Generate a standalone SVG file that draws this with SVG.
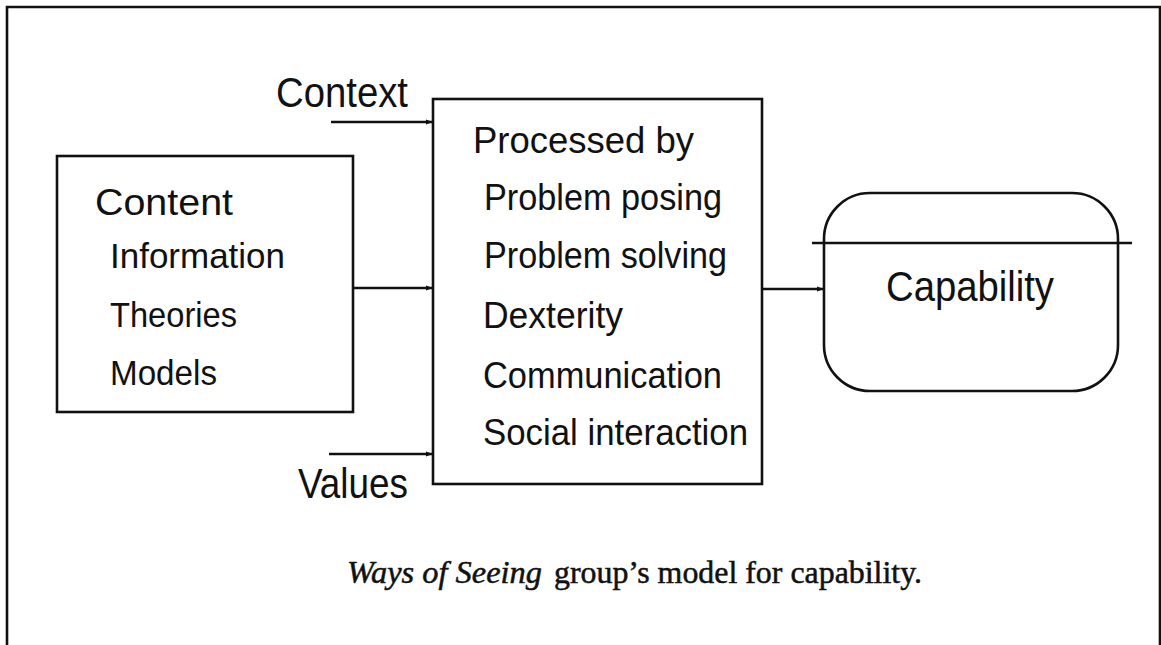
<svg xmlns="http://www.w3.org/2000/svg" width="1161" height="645" viewBox="0 0 1161 645">
  <style>
    .box { fill: none; stroke: #111; stroke-width: 2.6; }
    .wire { fill: none; stroke: #111; stroke-width: 2.4; }
    .lbl { font-family: "Liberation Sans", Arial, sans-serif; fill: #111; }
    .big { font-size: 42px; }
    .mid { font-size: 37px; }
    .sm { font-size: 35px; }
    .cap { font-family: "Liberation Serif", "Times New Roman", serif; font-size: 31px; fill: #111; stroke: #111; stroke-width: 0.5; }
  </style>
  <defs>
    <marker id="tip" viewBox="0 0 8 8" refX="7" refY="4" markerWidth="7" markerHeight="7" markerUnits="userSpaceOnUse" orient="auto">
      <path d="M0,1 L8,4 L0,7 Z" fill="#111"/>
    </marker>
  </defs>

  <rect width="1161" height="645" fill="#fff"/>

  <!-- outer frame (open at the bottom edge of the page) -->
  <path class="box" d="M7,650 V7 H1160 V650"/>

  <g id="content">
    <rect class="box" x="57" y="156" width="296" height="256"/>
    <text class="lbl mid" x="95" y="215" textLength="138" lengthAdjust="spacingAndGlyphs">Content</text>
    <text class="lbl sm" x="110" y="268" textLength="175" lengthAdjust="spacingAndGlyphs">Information</text>
    <text class="lbl sm" x="110" y="327" textLength="127" lengthAdjust="spacingAndGlyphs">Theories</text>
    <text class="lbl sm" x="110" y="385" textLength="107" lengthAdjust="spacingAndGlyphs">Models</text>
  </g>

  <g id="context">
    <text class="lbl big" x="276" y="107" textLength="132" lengthAdjust="spacingAndGlyphs">Context</text>
  </g>

  <g id="values">
    <text class="lbl big" x="298" y="498" textLength="110" lengthAdjust="spacingAndGlyphs">Values</text>
  </g>

  <g id="processed">
    <rect class="box" x="433" y="99" width="329" height="385"/>
    <text class="lbl mid" x="473" y="153" textLength="221" lengthAdjust="spacingAndGlyphs">Processed by</text>
    <text class="lbl mid" x="484" y="210" textLength="238" lengthAdjust="spacingAndGlyphs">Problem posing</text>
    <text class="lbl mid" x="484" y="268" textLength="243" lengthAdjust="spacingAndGlyphs">Problem solving</text>
    <text class="lbl mid" x="483" y="328" textLength="140" lengthAdjust="spacingAndGlyphs">Dexterity</text>
    <text class="lbl mid" x="483" y="388" textLength="239" lengthAdjust="spacingAndGlyphs">Communication</text>
    <text class="lbl mid" x="483" y="445" textLength="265" lengthAdjust="spacingAndGlyphs">Social interaction</text>
  </g>

  <g id="capability">
    <rect class="box" x="824" y="193" width="294" height="198" rx="46" ry="46"/>
    <line class="wire" x1="812" y1="243" x2="1132" y2="243"/>
    <text class="lbl big" x="886" y="301" textLength="168" lengthAdjust="spacingAndGlyphs">Capability</text>
  </g>

  <g id="connectors">
    <line class="wire" x1="331" y1="122" x2="432" y2="122" marker-end="url(#tip)"/>
    <line class="wire" x1="353" y1="288" x2="432" y2="288" marker-end="url(#tip)"/>
    <line class="wire" x1="329" y1="454" x2="432" y2="454" marker-end="url(#tip)"/>
    <line class="wire" x1="762" y1="289" x2="823" y2="289" marker-end="url(#tip)"/>
  </g>

  <g id="caption">
    <text class="cap" x="347" y="583" font-style="italic" textLength="195" lengthAdjust="spacingAndGlyphs">Ways of Seeing</text>
    <text class="cap" x="554" y="583" textLength="368" lengthAdjust="spacingAndGlyphs">group’s model for capability.</text>
  </g>
</svg>
